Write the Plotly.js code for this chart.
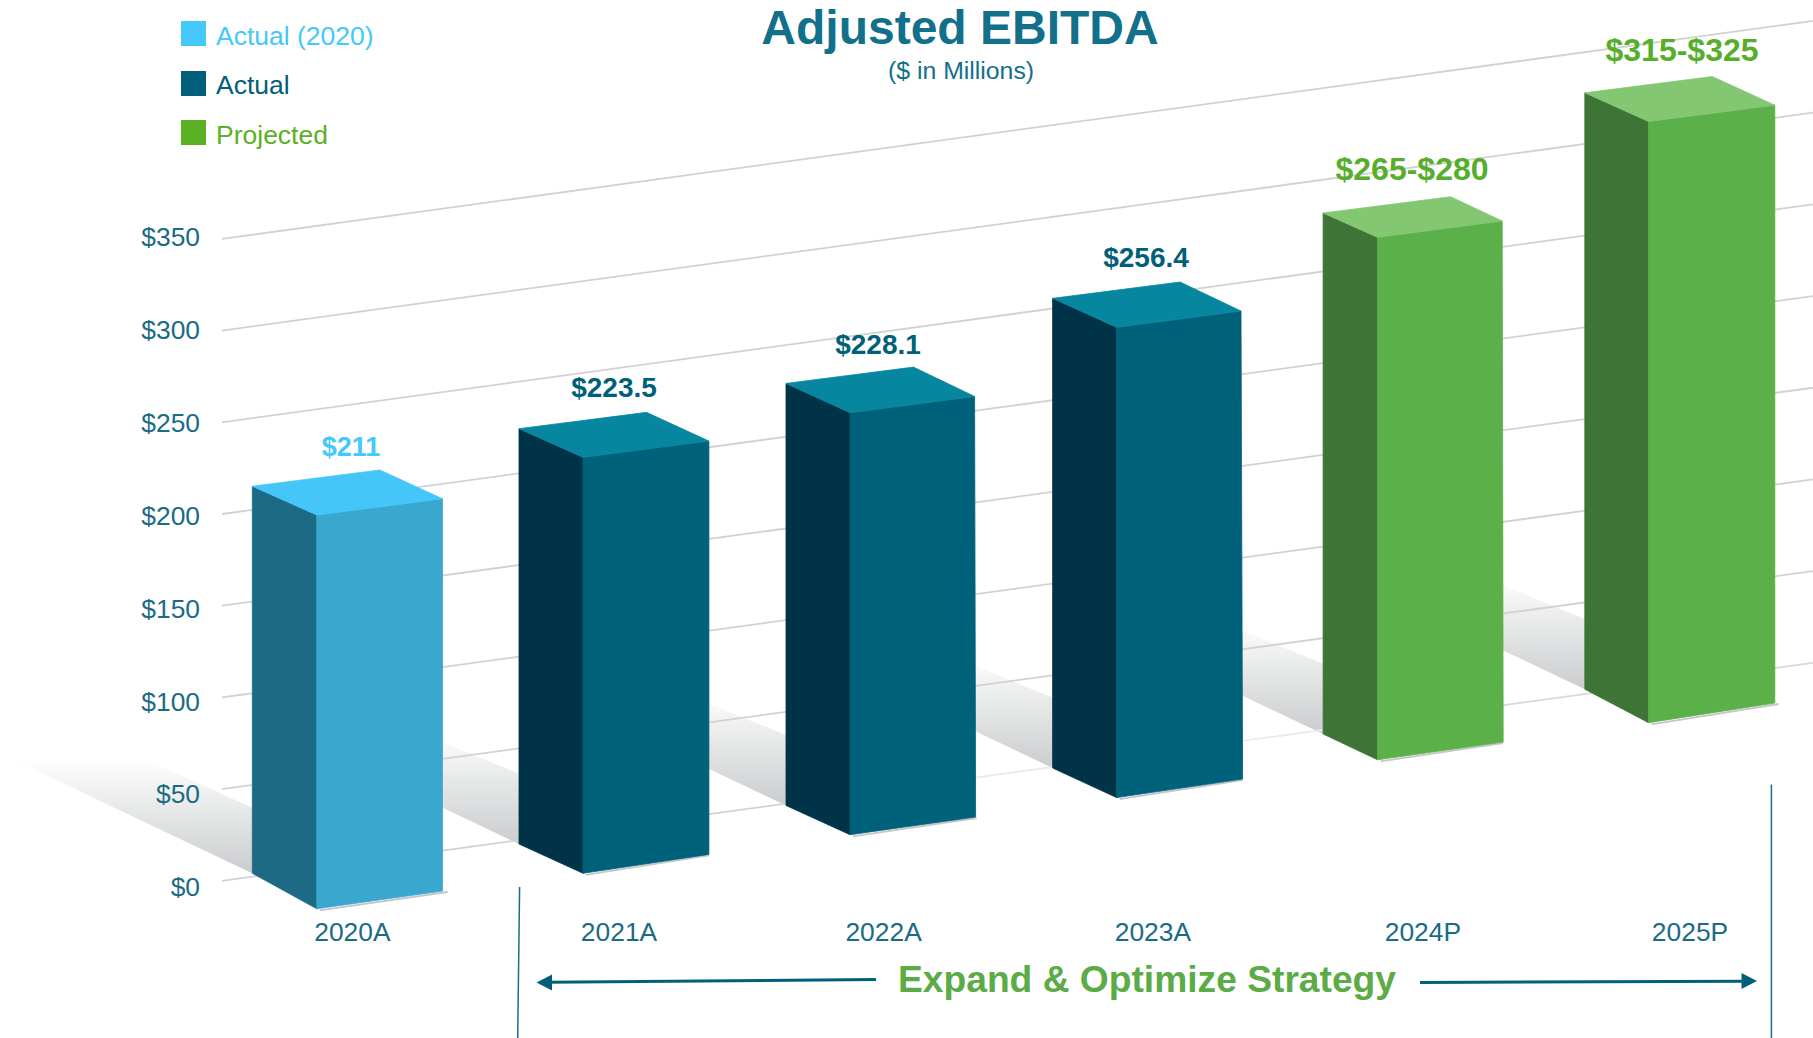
<!DOCTYPE html>
<html>
<head>
<meta charset="utf-8">
<script src="https://cdn.plot.ly/plotly-3.0.1.min.js"></script>
<style>html,body{margin:0;padding:0;background:#fff;overflow:hidden}#chart{width:1813px;height:1038px}</style>
</head>
<body>
<div id="chart"></div>
<script>
// ---- data ----
const categories = ['2020A','2021A','2022A','2023A','2024P','2025P'];
const barTops = [211, 223.5, 228.1, 256.4, 280, 325];
const valueLabels = ['$211','$223.5','$228.1','$256.4','$265-$280','$315-$325'];
const groups = ['actual2020','actual','actual','actual','projected','projected'];
const yTicks = [0,50,100,150,200,250,300,350];
const yTickText = ['$0','$50','$100','$150','$200','$250','$300','$350'];
const legendNames = ['Actual (2020)','Actual','Projected'];

// ---- oblique-view geometry (floor position of every bar, screen px) ----
const W = 1813, H = 1038, ML = 205, PB = 912;
const frontX  = [316.8,583,850,1116.6,1377.5,1648.5];
const frontY  = [908.8,873.3,834.7,797.6,759.8,722.7];
const frontW  = [125.7,125.9,125.6,126,125.7,126.3];
const topTrim = [0,0,1,1.6,1,0];
const riseBot = [17.8,18.9,17.7,18.6,17.8,19.7];
const sideDx  = [64.5,64,64,64,54.4,63.7];
const sideDyB = [35.5,29.3,29.2,29.6,25.8,33.5];
const sideDyT = [28.8,28.7,29.3,29,24.3,28.6];
const hScale  = [1.866,1.861,1.850,1.834,1.866,1.850];
const floorExt = [5,0,1,0,0,4];
const tickX   = [352.4,619,883.6,1152.9,1422.9,1690];
const labelX  = [351,614,878,1146,1412,1682];
const labelDy = [21,22.2,20.5,22.1,24.5,23.5];
const labelSz = [27,28,28,28,32,32];
const AX0 = 887, AXS = 1.857;           // axis: px of $0 and px per $
const u = py => (AX0 - py) / AXS;       // screen row -> y-axis value
const px = x => x / W;                  // paper coords
const py = y => (PB - y) / PB;

const palette = {
  actual2020:{side:'#1c6a86',front:'#3aa7cf',top:'#45c6f9',text:'#45c8fa'},
  actual:{side:'#003347',front:'#00617b',top:'#07879f',text:'#00607a'},
  projected:{side:'#3e7537',front:'#5bb04a',top:'#83c773',text:'#56ae2c'}
};
const TEAL = '#12708a', GRID = '#d2d2d2';

const traces = [];
const poly = (pts, color, name) => ({
  type:'scatter', mode:'lines', name, x:pts.map(p=>p[0]), y:pts.map(p=>u(p[1])),
  fill:'toself', fillcolor:color, line:{color,width:0.8}, hoverinfo:'skip',
  showlegend:false, cliponaxis:false
});

// floor shadows behind each bar
categories.forEach((c,i)=>{
  const lx = frontX[i]-sideDx[i], ly = frontY[i]-sideDyB[i];
  const aH = i===0 ? 65 : 70;
  const pts = [[lx,ly],[lx+1,ly-aH],[lx-107,ly-114],[lx-240,ly-114],[lx,ly]];
  traces.push({type:'scatter',mode:'lines',name:c+' shadow',x:pts.map(p=>p[0]),y:pts.map(p=>u(p[1])),
    fill:'toself',line:{width:0},hoverinfo:'skip',showlegend:false,cliponaxis:false,
    fillcolor:'rgba(0,0,0,0)',
    fillgradient:{type:'vertical',colorscale:[[0,'#cbccce'],[0.6,'#e9eaea'],[1,'#ffffff']]}});
});

// skewed grid lines
const gridAt = (v,x) => 880.8 - 1.834*v - 0.137*(x-222);
yTicks.forEach(v=>{
  const segs = v===0
    ? [[222,800,'#d2d2d2'],[800,1500,'#ebebeb'],[1500,W,'#d8d8d8']]
    : [[222,W,GRID]];
  segs.forEach(s=>traces.push({type:'scatter',mode:'lines',name:'$'+v+' grid',
    x:[s[0],s[1]],y:[u(gridAt(v,s[0])),u(gridAt(v,s[1]))],
    line:{color:s[2],width:1.8},hoverinfo:'skip',showlegend:false}));
});

// bars
categories.forEach((c,i)=>{
  const col = palette[groups[i]];
  const h = barTops[i]*hScale[i];
  const F=[frontX[i],frontY[i]], R=[frontX[i]+frontW[i],frontY[i]-riseBot[i]], L=[frontX[i]-sideDx[i],frontY[i]-sideDyB[i]];
  const tF=[F[0],F[1]-h], tR=[R[0]-topTrim[i],tF[1]-16.3], tL=[L[0],tF[1]-sideDyT[i]], tB=[tL[0]+127.5,tL[1]-16.3];
  traces.push({type:'scatter',mode:'lines',name:c+' floor',x:[F[0]+3,R[0]+floorExt[i]],y:[u(F[1]+1.6),u(R[1]+1)],
    line:{color:'#c6c6c6',width:1.8},hoverinfo:'skip',showlegend:false,cliponaxis:false});
  traces.push(poly([L,tL,tF,F,L],col.side,c+' side'));
  traces.push(poly([F,tF,tR,R,F],col.front,c));
  traces.push(poly([tL,tB,tR,tF,tL],col.top,c+' top'));
});

// value labels
traces.push({type:'scatter',mode:'text',name:'values',x:labelX,
  y:categories.map((c,i)=>u(frontY[i]-barTops[i]*hScale[i]-sideDyT[i]-16.3-labelDy[i])),
  text:valueLabels,textposition:'middle center',cliponaxis:false,hoverinfo:'skip',showlegend:false,
  textfont:{family:'Liberation Sans',size:labelSz,weight:700,color:groups.map(g=>palette[g].text)}});

const line = (x0,y0,x1,y1,color,width)=>({type:'line',xref:'paper',yref:'paper',layer:'above',
  x0:px(x0),y0:py(y0),x1:px(x1),y1:py(y1),line:{color,width}});
const swatchCols = ['#45c8fa','#00607a','#5bb124'];
const swatchY = [21,71,120];
const shapes = [
  ...swatchCols.map((c,i)=>({type:'rect',xref:'paper',yref:'paper',layer:'above',
    x0:px(181),x1:px(206),y0:py(swatchY[i]),y1:py(swatchY[i]+25),fillcolor:c,line:{width:0}})),
  line(519.6,887,517.7,1038,TEAL,1.5),
  line(1771.4,784.6,1771.4,1038,TEAL,1.5),
  line(876,979.5,548,982.3,'#00607a',3),
  line(1420,982.5,1745,981.2,'#00607a',3),
  {type:'path',xref:'paper',yref:'paper',layer:'above',fillcolor:'#00607a',line:{width:0},
   path:`M${px(536.5)},${py(982.4)} L${px(552)},${py(974.4)} L${px(552)},${py(990.4)} Z`},
  {type:'path',xref:'paper',yref:'paper',layer:'above',fillcolor:'#00607a',line:{width:0},
   path:`M${px(1757)},${py(981)} L${px(1741.5)},${py(973)} L${px(1741.5)},${py(989)} Z`}
];

const ann = (text,x,y,size,color,anchor,bold)=>({text,xref:'paper',yref:'paper',x:px(x),y:py(y),
  xanchor:anchor,yanchor:'middle',showarrow:false,
  font:{family:'Liberation Sans',size,color,weight:bold?700:400}});
const annotations = [
  ann('($ in Millions)',960.7,70.5,24.8,TEAL,'center',false),
  ann(legendNames[0],213.6,36,26.5,'#45c8fa','left',false),
  ann(legendNames[1],213.6,85,26.5,'#00607a','left',false),
  ann(legendNames[2],213.6,135,26.5,'#5bb024','left',false),
  ann('Expand &amp; Optimize Strategy',1147,979,37.2,'#5bab47','center',true)
];

const layout = {
  width:W,height:H,margin:{l:0,r:0,t:0,b:H-PB,pad:0},
  paper_bgcolor:'#fff',plot_bgcolor:'rgba(0,0,0,0)',showlegend:false,
  title:{text:'Adjusted EBITDA',x:960/W,xanchor:'center',y:1-27/H,yanchor:'middle',yref:'container',xref:'container',
    font:{family:'Liberation Sans',size:48,color:TEAL,weight:700}},
  xaxis:{range:[0,W],tickmode:'array',tickvals:tickX,ticktext:categories,ticks:'',showgrid:false,zeroline:false,showline:false,
    tickfont:{family:'Liberation Sans',size:26.4,color:'#1a6b85'},ticklabelstandoff:2,automargin:false},
  yaxis:{range:[u(PB),u(0)],anchor:'free',position:ML/W,tickmode:'array',tickvals:yTicks,ticktext:yTickText,ticks:'',showgrid:false,zeroline:false,showline:false,
    tickfont:{family:'Liberation Sans',size:26.4,color:'#1a6b85'},ticklabelstandoff:5,automargin:false},
  shapes,annotations
};
Plotly.newPlot('chart',traces,layout,{displayModeBar:false,staticPlot:true});
</script>
</body>
</html>
